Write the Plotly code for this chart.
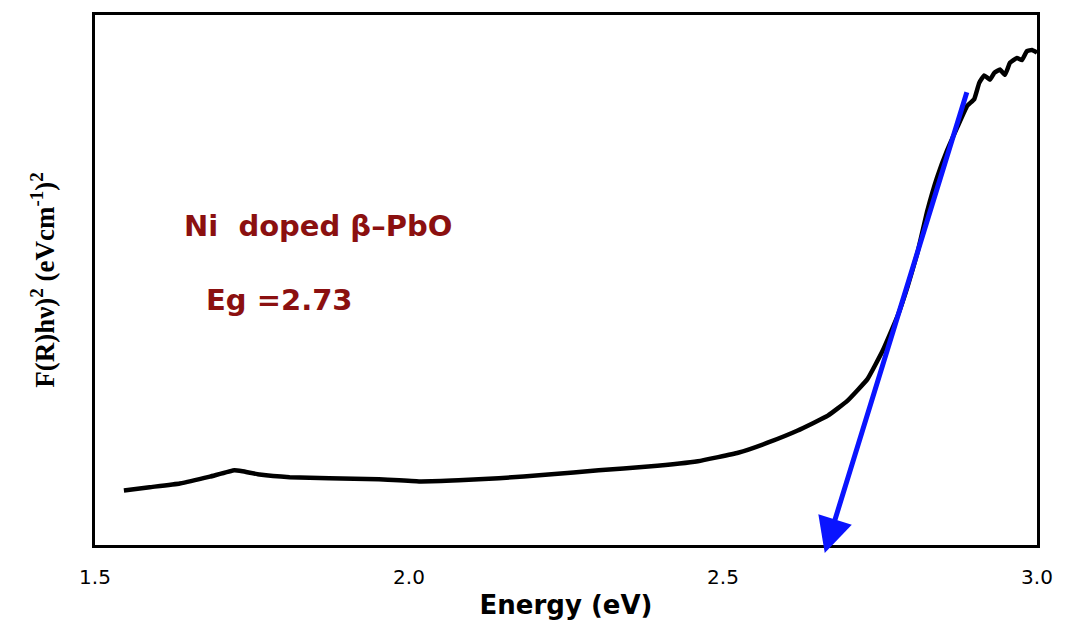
import plotly.graph_objects as go

energy = [1.546, 1.587, 1.635, 1.683, 1.722, 1.735, 1.762, 1.810, 1.873, 1.952, 2.016, 2.079,
          2.143, 2.222, 2.302, 2.381, 2.460, 2.524, 2.571, 2.619, 2.667, 2.698, 2.730,
          2.754, 2.778, 2.794, 2.810, 2.825, 2.841, 2.857, 2.873, 2.889, 2.900, 2.908,
          2.916, 2.925, 2.932, 2.941, 2.949, 2.957, 2.968, 2.976, 2.984, 2.992, 3.000]
signal = [1.03, 1.09, 1.16, 1.29, 1.41, 1.39, 1.33, 1.28, 1.26, 1.24, 1.20, 1.22,
          1.26, 1.33, 1.41, 1.48, 1.58, 1.74, 1.93, 2.16, 2.44, 2.72, 3.13,
          3.66, 4.32, 4.88, 5.53, 6.29, 6.94, 7.45, 7.88, 8.29, 8.41, 8.72,
          8.86, 8.78, 8.91, 8.97, 8.87, 9.10, 9.19, 9.15, 9.32, 9.34, 9.29]

arrow_start = (2.889, 8.57)
arrow_end = (2.662, -0.15)

xticks = [1.5, 2.0, 2.5, 3.0]
xtick_text = ["1.5", "2.0", "2.5", "3.0"]

fig = go.Figure()
fig.add_trace(go.Scatter(x=energy, y=signal, mode="lines",
                         line=dict(color="black", width=4.5, shape="spline", smoothing=0.3),
                         showlegend=False, hoverinfo="skip"))

fig.add_annotation(x=arrow_end[0], y=arrow_end[1], ax=arrow_start[0], ay=arrow_start[1],
                   xref="x", yref="y", axref="x", ayref="y", text="", showarrow=True,
                   arrowhead=2, arrowsize=1.4, arrowwidth=5, arrowcolor="#0A14FF")

fig.add_annotation(x=0.092, y=0.602, xref="paper", yref="paper", xanchor="left", yanchor="middle",
                   text="<b>Ni  doped β–PbO</b>", showarrow=False,
                   font=dict(family="DejaVu Sans", size=29, color="#8B1010"))
fig.add_annotation(x=0.116, y=0.463, xref="paper", yref="paper", xanchor="left", yanchor="middle",
                   text="<b>Eg =2.73</b>", showarrow=False,
                   font=dict(family="DejaVu Sans", size=29, color="#8B1010"))

fig.update_layout(
    width=1065, height=636,
    margin=dict(l=95, r=25, t=12, b=91),
    paper_bgcolor="white", plot_bgcolor="white",
    xaxis=dict(range=[1.5, 3.0], tickvals=xticks, ticktext=xtick_text,
               showgrid=False, zeroline=False, showline=True, linecolor="black", linewidth=3,
               mirror=True, ticks="", ticklabelstandoff=12,
               tickfont=dict(family="DejaVu Sans", size=20, color="black"),
               title=dict(text="<b>Energy (eV)</b>", standoff=8,
                          font=dict(family="DejaVu Sans", size=26, color="black"))),
    yaxis=dict(range=[0, 10], showticklabels=False, showgrid=False, zeroline=False,
               showline=True, linecolor="black", linewidth=3, mirror=True, ticks="",
               title=dict(text="<b>F(R)hν)<sup>2</sup> (eVcm<sup>-1</sup>)<sup>2</sup></b>", standoff=30,
                          font=dict(family="Liberation Serif, Times New Roman", size=27, color="black"))),
)

fig.write_html("out.html")
